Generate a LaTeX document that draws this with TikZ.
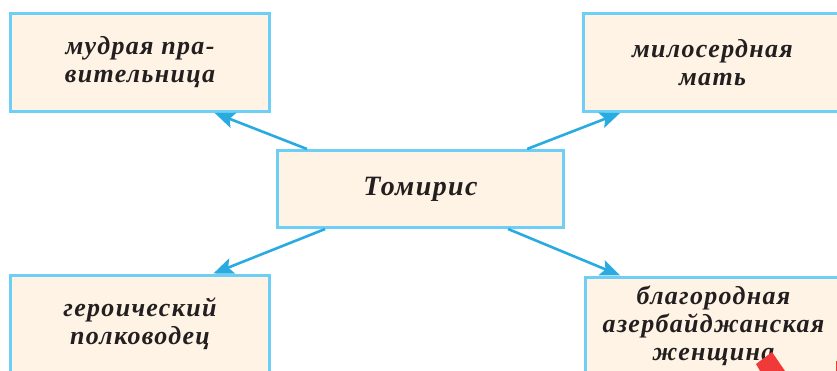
\documentclass[tikz,border=0pt]{standalone}
\usepackage{fontspec}
\setmainfont{Liberation Serif}[LetterSpace=5]
\usetikzlibrary{arrows.meta,calc}
\definecolor{boxfill}{HTML}{FEF3E4}
\definecolor{boxline}{HTML}{6DCFF6}
\definecolor{arrowc}{HTML}{29ABE2}
\definecolor{txt}{HTML}{231F20}
\definecolor{redmark}{HTML}{F03A3A}
\tikzset{
  box/.style={draw=boxline, line width=3pt, fill=boxfill, rectangle, inner sep=0pt,
    align=center, text=txt, font=\fontsize{26}{28}\selectfont\bfseries\itshape},
  link/.style={draw=arrowc, line width=2.6pt, -{Stealth[length=20pt,width=16pt,inset=4pt]}}
}
\begin{document}
\begin{tikzpicture}[x=1pt,y=-1pt]
\useasboundingbox (0,0) rectangle (837,371);
\begin{scope}
\clip (0,0) rectangle (837,371);
\node[box, minimum width=259pt, minimum height=98pt] (tl) at (140,62.5) {мудрая пра-\\вительница};
\node[box, minimum width=258pt, minimum height=98pt] (tr) at (712.5,62.5) {милосердная\\мать};
\node[box, minimum width=286pt, minimum height=77pt] (c) at (420.5,189) {\fontsize{28}{30}\selectfont Томирис};
\node[box, minimum width=259pt, minimum height=98pt] (bl) at (140,324) {героический\\полководец};
\node[box, minimum width=256pt, minimum height=98pt] (br) at (713.5,326) {благородная\\азербайджанская\\женщина};
\fill[redmark] (756,364) -- (772,352) -- (785,371) -- (760,371) -- cycle;
\fill[redmark] (835.5,361) rectangle (837,371);
\end{scope}
\draw[link] ($(c.north west)!0.107!(c.north east)$) -- ($(tl.south west)!0.785!(tl.south east)$);
\draw[link] ($(c.north west)!0.869!(c.north east)$) -- ($(tr.south west)!0.146!(tr.south east)$);
\draw[link] ($(c.south west)!0.17!(c.south east)$) -- ($(bl.north west)!0.78!(bl.north east)$);
\draw[link] ($(c.south west)!0.803!(c.south east)$) -- ($(br.north west)!0.14!(br.north east)$);
\end{tikzpicture}
\end{document}
